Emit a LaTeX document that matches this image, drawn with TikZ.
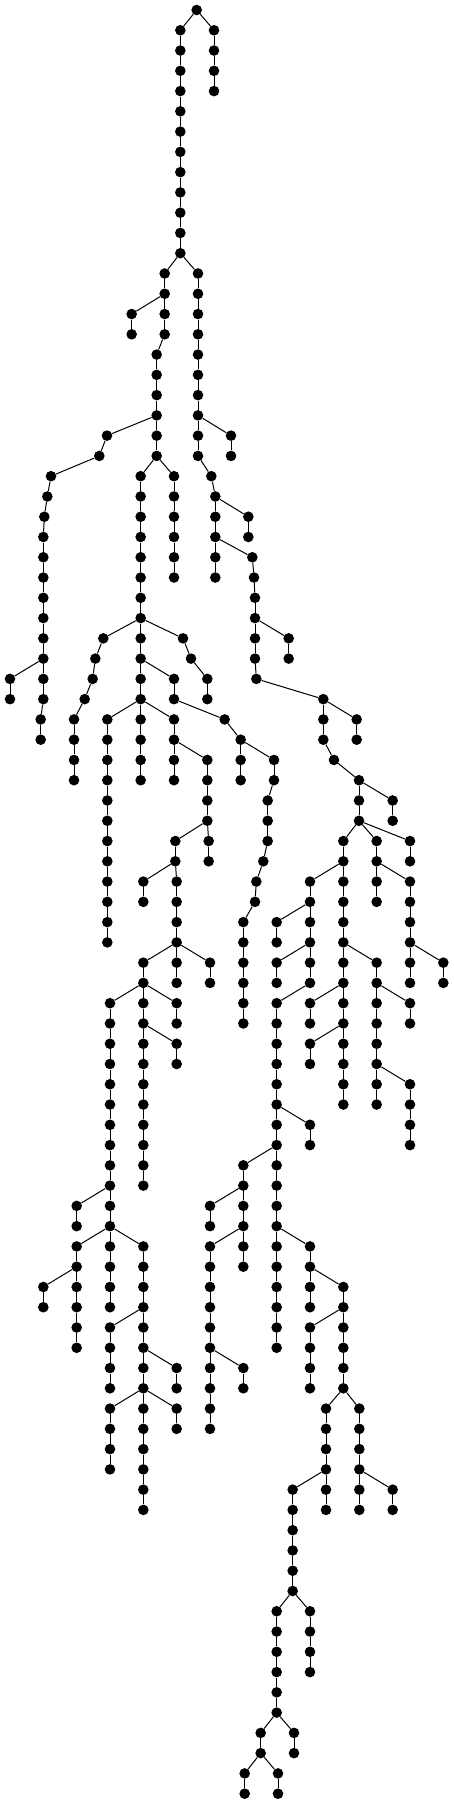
\documentclass[tikz,border=0pt]{standalone}
\tikzset{
  dot/.style={circle, fill=black, draw=none, inner sep=0pt, minimum size=10.6pt},
  edge/.style={line width=1pt, black}
}
\newcommand\mychain[3]{%
  \foreach \l in {#2,...,#3}{%
    \node[dot] (n\l-#1) at ({#1/3}, {-10-20.269*\l}) {};
  }%
  \ifnum#2<#3\relax
    \pgfmathtruncatemacro\chainstart{#2+1}%
    \foreach \l in {\chainstart,...,#3}{%
      \pgfmathtruncatemacro\lp{\l-1}%
      \draw[edge] (n\lp-#1) -- (n\l-#1);
    }%
  \fi
}
\newcommand\edg[4]{\draw[edge] (n#1-#2) -- (n#3-#4);}
\begin{document}
\begin{tikzpicture}[x=1pt, y=1pt]
\fill[white] (0,0) rectangle (454,-1804);
\useasboundingbox (0,0) rectangle (454,-1804);
\mychain{590}{0}{0}
\mychain{541}{1}{12} \edg{0}{590}{1}{541}
\mychain{642}{1}{4} \edg{0}{590}{1}{642}
\mychain{494}{13}{16} \edg{12}{541}{13}{494}
\mychain{594}{13}{22} \edg{12}{541}{13}{594}
\mychain{395}{15}{16} \edg{14}{494}{15}{395}
\mychain{470}{17}{22} \edg{16}{494}{17}{470}
\mychain{321}{21}{21} \edg{20}{470}{21}{321}
\mychain{298}{22}{22} \edg{21}{321}{22}{298}
\mychain{153}{23}{23} \edg{22}{298}{23}{153}
\mychain{142}{24}{24} \edg{23}{153}{24}{142}
\mychain{133}{25}{25} \edg{24}{142}{25}{133}
\mychain{130}{26}{34} \edg{25}{133}{26}{130}
\mychain{30}{33}{34} \edg{32}{130}{33}{30}
\mychain{122}{35}{36} \edg{34}{130}{35}{122}
\mychain{693}{21}{22} \edg{20}{594}{21}{693}
\mychain{634}{23}{23} \edg{22}{594}{23}{634}
\mychain{646}{24}{28} \edg{23}{634}{24}{646}
\mychain{745}{25}{26} \edg{24}{646}{25}{745}
\mychain{757}{27}{27} \edg{26}{646}{27}{757}
\mychain{762}{28}{28} \edg{27}{757}{28}{762}
\mychain{765}{29}{32} \edg{28}{762}{29}{765}
\mychain{866}{31}{32} \edg{30}{765}{31}{866}
\mychain{769}{33}{33} \edg{32}{765}{33}{769}
\mychain{970}{34}{36} \edg{33}{769}{34}{970}
\mychain{1070}{35}{36} \edg{34}{970}{35}{1070}
\mychain{1002}{37}{37} \edg{36}{970}{37}{1002}
\mychain{1077}{38}{40} \edg{37}{1002}{38}{1077}
\mychain{1178}{39}{40} \edg{38}{1077}{39}{1178}
\mychain{1030}{41}{54} \edg{40}{1077}{41}{1030}
\mychain{1130}{41}{44} \edg{40}{1077}{41}{1130}
\mychain{1230}{41}{42} \edg{40}{1077}{41}{1230}
\mychain{930}{43}{48} \edg{42}{1030}{43}{930}
\mychain{1230}{43}{48} \edg{42}{1130}{43}{1230}
\mychain{830}{45}{46} \edg{44}{930}{45}{830}
\mychain{830}{47}{48} \edg{46}{930}{47}{830}
\mychain{1130}{47}{54} \edg{46}{1030}{47}{1130}
\mychain{1330}{47}{48} \edg{46}{1230}{47}{1330}
\mychain{830}{49}{66} \edg{48}{930}{49}{830}
\mychain{930}{49}{50} \edg{48}{1030}{49}{930}
\mychain{1230}{49}{50} \edg{48}{1130}{49}{1230}
\mychain{930}{51}{52} \edg{50}{1030}{51}{930}
\mychain{1230}{53}{56} \edg{52}{1130}{53}{1230}
\mychain{930}{55}{56} \edg{54}{830}{55}{930}
\mychain{730}{57}{62} \edg{56}{830}{57}{730}
\mychain{630}{59}{60} \edg{58}{730}{59}{630}
\mychain{630}{61}{70} \edg{60}{730}{61}{630}
\mychain{930}{61}{64} \edg{60}{830}{61}{930}
\mychain{1030}{63}{68} \edg{62}{930}{63}{1030}
\mychain{930}{65}{68} \edg{64}{1030}{65}{930}
\mychain{730}{67}{68} \edg{66}{630}{67}{730}
\mychain{978}{69}{74} \edg{68}{1030}{69}{978}
\mychain{1078}{69}{74} \edg{68}{1030}{69}{1078}
\mychain{878}{73}{78} \edg{72}{978}{73}{878}
\mychain{1178}{73}{74} \edg{72}{1078}{73}{1178}
\mychain{830}{79}{84} \edg{78}{878}{79}{830}
\mychain{930}{79}{82} \edg{78}{878}{79}{930}
\mychain{782}{85}{86} \edg{84}{830}{85}{782}
\mychain{882}{85}{86} \edg{84}{830}{85}{882}
\mychain{734}{87}{88} \edg{86}{782}{87}{734}
\mychain{834}{87}{88} \edg{86}{782}{87}{834}
\mychain{422}{23}{38} \edg{22}{470}{23}{422}
\mychain{522}{23}{28} \edg{22}{470}{23}{522}
\mychain{310}{31}{31} \edg{30}{422}{31}{310}
\mychain{286}{32}{32} \edg{31}{310}{32}{286}
\mychain{278}{33}{33} \edg{32}{286}{33}{278}
\mychain{254}{34}{34} \edg{33}{278}{34}{254}
\mychain{222}{35}{38} \edg{34}{254}{35}{222}
\mychain{549}{31}{31} \edg{30}{422}{31}{549}
\mychain{573}{32}{32} \edg{31}{549}{32}{573}
\mychain{622}{33}{34} \edg{32}{573}{33}{622}
\mychain{522}{33}{34} \edg{32}{422}{33}{522}
\mychain{674}{35}{35} \edg{34}{522}{35}{674}
\mychain{722}{36}{38} \edg{35}{674}{36}{722}
\mychain{822}{37}{38} \edg{36}{722}{37}{822}
\mychain{803}{39}{41} \edg{38}{822}{39}{803}
\mychain{790}{42}{42} \edg{41}{803}{42}{790}
\mychain{769}{43}{43} \edg{42}{790}{43}{769}
\mychain{765}{44}{44} \edg{43}{769}{44}{765}
\mychain{730}{45}{50} \edg{44}{765}{45}{730}
\mychain{322}{35}{46} \edg{34}{422}{35}{322}
\mychain{522}{35}{38} \edg{34}{422}{35}{522}
\mychain{622}{37}{40} \edg{36}{522}{37}{622}
\mychain{526}{41}{42} \edg{40}{622}{41}{526}
\mychain{626}{41}{42} \edg{40}{622}{41}{626}
\mychain{430}{43}{44} \edg{42}{526}{43}{430}
\mychain{530}{43}{48} \edg{42}{526}{43}{530}
\mychain{430}{47}{58} \edg{46}{530}{47}{430}
\mychain{630}{47}{48} \edg{46}{530}{47}{630}
\mychain{330}{49}{64} \edg{48}{430}{49}{330}
\mychain{530}{49}{50} \edg{48}{430}{49}{530}
\mychain{530}{51}{52} \edg{50}{430}{51}{530}
\mychain{230}{59}{60} \edg{58}{330}{59}{230}
\mychain{230}{61}{66} \edg{60}{330}{61}{230}
\mychain{430}{61}{74} \edg{60}{330}{61}{430}
\mychain{130}{63}{64} \edg{62}{230}{63}{130}
\mychain{330}{65}{68} \edg{64}{430}{65}{330}
\mychain{530}{67}{68} \edg{66}{430}{67}{530}
\mychain{330}{69}{72} \edg{68}{430}{69}{330}
\mychain{530}{69}{70} \edg{68}{430}{69}{530}
\end{tikzpicture}
\end{document}
